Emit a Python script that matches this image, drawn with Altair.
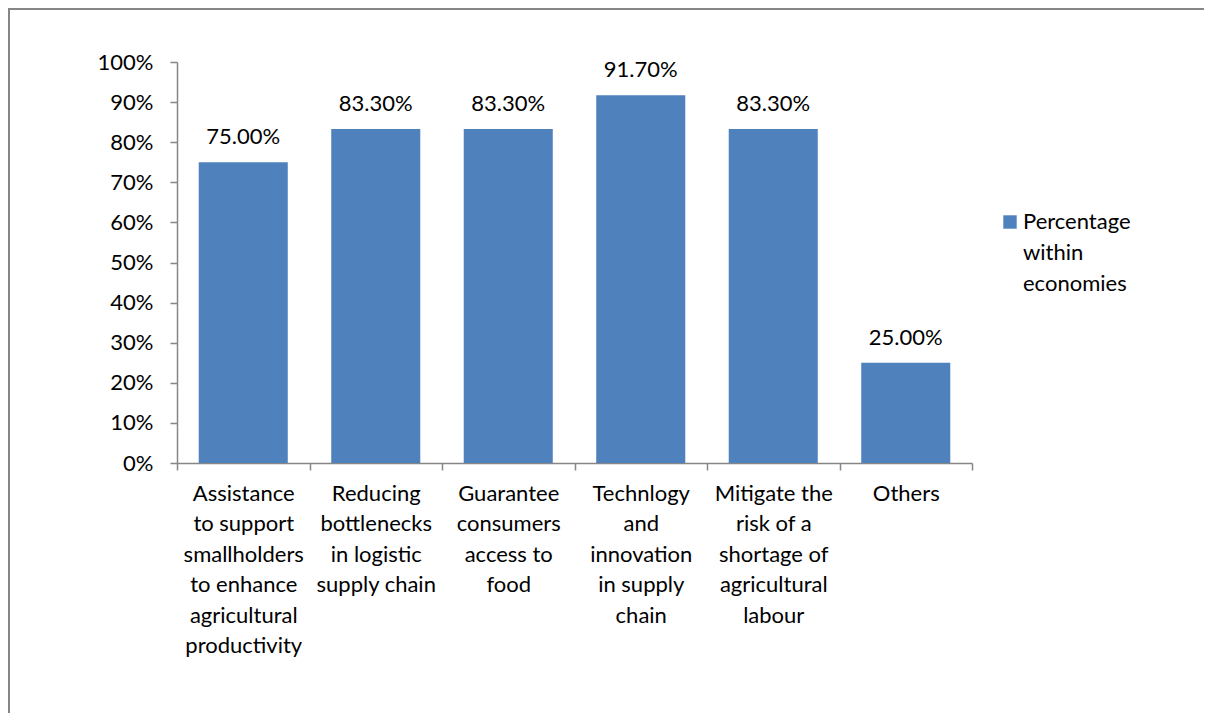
import altair as alt
import pandas as pd

categories = [
    "Assistance\nto support\nsmallholders\nto enhance\nagricultural\nproductivity",
    "Reducing\nbottlenecks\nin logistic\nsupply chain",
    "Guarantee\nconsumers\naccess to\nfood",
    "Technlogy\nand\ninnovation\nin supply\nchain",
    "Mitigate the\nrisk of a\nshortage of\nagricultural\nlabour",
    "Others",
]
values = [0.75, 0.833, 0.833, 0.917, 0.833, 0.25]
series_name = "Percentage\nwithin\neconomies"

df = pd.DataFrame({"category": categories, "value": values, "series": [series_name] * len(values)})

FONT = "Lato"
FS = 22
BLUE = "#4F81BD"
GRAY = "#868686"

x = alt.X(
    "category:N",
    sort=categories,
    scale=alt.Scale(paddingInner=0, paddingOuter=0),
    axis=alt.Axis(
        title=None,
        labelAngle=0,
        labelExpr="split(datum.label, '\\n')",
        labelLineHeight=30.5,
        labelBaseline="top",
        labelPadding=13,
        tickBand="extent",
        tickSize=7,
        tickColor=GRAY,
        tickWidth=1.5,
        domainColor=GRAY,
        domainWidth=1.5,
        labelFontSize=FS,
        labelFont=FONT,
        labelColor="#000000",
        labelLimit=300,
    ),
)
y = alt.Y(
    "value:Q",
    scale=alt.Scale(domain=[0, 1]),
    axis=alt.Axis(
        title=None,
        format=".0%",
        values=[i / 10 for i in range(11)],
        grid=False,
        tickSize=7,
        tickColor=GRAY,
        tickWidth=1.5,
        domainColor=GRAY,
        domainWidth=1.5,
        labelPadding=17,
        labelFontSize=FS,
        labelFont=FONT,
        labelColor="#000000",
    ),
)

bars = alt.Chart(df).mark_bar(width=alt.RelativeBandSize(0.672)).encode(
    x=x,
    y=y,
    color=alt.Color(
        "series:N",
        scale=alt.Scale(range=[BLUE]),
        legend=alt.Legend(
            title=None,
            orient="none",
            legendX=822,
            legendY=149,
            symbolType="square",
            symbolSize=180,
            symbolStrokeWidth=0,
            labelExpr="split(datum.label, '\\n')",
            labelFontSize=FS,
            labelFont=FONT,
            labelColor="#000000",
            labelLimit=300,
            labelOffset=2,
        ),
    ),
)

labels = alt.Chart(df).mark_text(
    baseline="alphabetic", dy=-18, fontSize=FS, font=FONT, color="#000000"
).encode(
    x=alt.X("category:N", sort=categories),
    y="value:Q",
    text=alt.Text("value:Q", format=".2%"),
)

border_top = alt.Chart(df).mark_rule(stroke=GRAY, strokeWidth=2, clip=False).encode(
    x=alt.value(-169), x2=alt.value(1030), y=alt.value(-53)
)
border_left = alt.Chart(df).mark_rule(stroke=GRAY, strokeWidth=2, clip=False).encode(
    x=alt.value(-168), y=alt.value(-54), y2=alt.value(655)
)

chart = alt.layer(border_top, border_left, bars, labels).properties(
    width=795,
    height=401,
    autosize=alt.AutoSizeParams(type="none"),
    padding={"left": 169, "top": 54, "right": 232, "bottom": 250},
).configure(
    font=FONT,
    view=alt.ViewConfig(stroke=None),
    style={"guide-label": {"lineHeight": 31}},
)

chart.save("out.html", embed_options={"renderer": "svg", "actions": False})
